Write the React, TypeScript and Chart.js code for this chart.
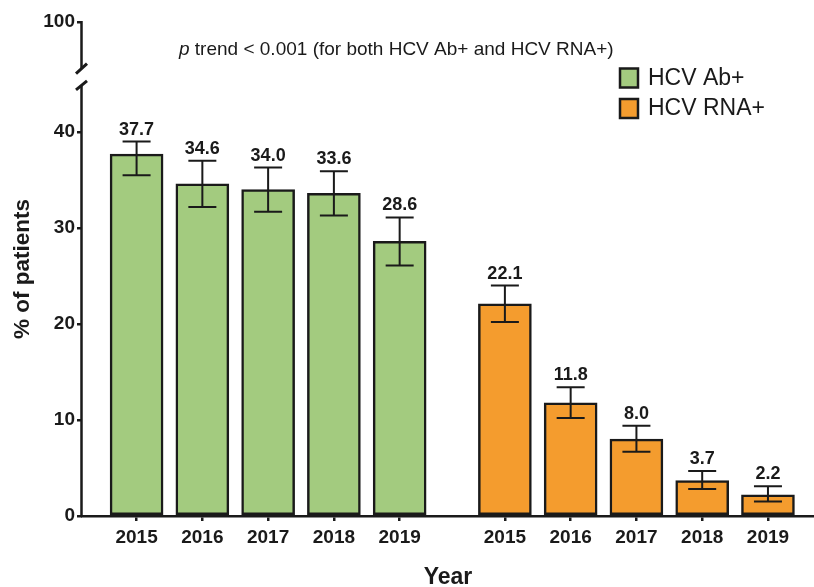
import React, { useEffect, useRef } from 'react';
import { Chart, registerables } from 'chart.js';

Chart.register(...registerables);

// ---- data ----
const years = ['2015', '2016', '2017', '2018', '2019'];
const abPositions = [0, 1, 2, 3, 4];
const rnaPositions = [5.6, 6.6, 7.6, 8.6, 9.6];

const abValues = [37.7, 34.6, 34.0, 33.6, 28.6];
const abLow = [35.5, 32.2, 31.7, 31.3, 26.1];
const abHigh = [39.0, 37.0, 36.3, 35.9, 31.1];

const rnaValues = [22.1, 11.8, 8.0, 3.7, 2.2];
const rnaLow = [20.2, 10.2, 6.7, 2.8, 1.5];
const rnaHigh = [24.0, 13.4, 9.4, 4.7, 3.1];

const yTicks = [0, 10, 20, 30, 40];
const yTopTickLabel = '100';
const seriesLabels = ['HCV Ab+', 'HCV RNA+'];
const annotationItalic = 'p';
const annotationRest = ' trend < 0.001 (for both HCV Ab+ and HCV RNA+)';

// ---- styling ----
const FONT = '"Liberation Sans", Arial, Helvetica, sans-serif';
const INK = '#1a1a1a';
const GREEN = '#A3CB7F';
const ORANGE = '#F49C2E';
const Y_TOP = 51.46; // scale value at the "100" tick position (broken axis)
const BREAK_LOW = 44.8;
const BREAK_HIGH = 46.6;

const overlay = {
  id: 'overlay',
  afterDatasetsDraw(chart: any) {
    const ctx = chart.ctx;
    const xs = chart.scales.x;
    const ys = chart.scales.y;
    const drawSeries = (pos: number[], vals: number[], lo: number[], hi: number[]) => {
      for (let i = 0; i < pos.length; i++) {
        const px = xs.getPixelForValue(pos[i]);
        const pl = ys.getPixelForValue(lo[i]);
        const ph = ys.getPixelForValue(hi[i]);
        ctx.save();
        ctx.strokeStyle = INK;
        ctx.lineWidth = 2;
        ctx.beginPath();
        ctx.moveTo(px, pl);
        ctx.lineTo(px, ph);
        ctx.moveTo(px - 14, pl);
        ctx.lineTo(px + 14, pl);
        ctx.moveTo(px - 14, ph);
        ctx.lineTo(px + 14, ph);
        ctx.stroke();
        ctx.fillStyle = INK;
        ctx.font = `bold 18px ${FONT}`;
        ctx.textAlign = 'center';
        ctx.textBaseline = 'alphabetic';
        ctx.fillText(vals[i].toFixed(1), px, ph - 7);
        ctx.restore();
      }
    };
    drawSeries(abPositions, abValues, abLow, abHigh);
    drawSeries(rnaPositions, rnaValues, rnaLow, rnaHigh);
  },
  afterDraw(chart: any) {
    const ctx = chart.ctx;
    const ys = chart.scales.y;
    const ax = chart.chartArea.left - 0.5;
    const yTop = ys.getPixelForValue(Y_TOP);
    const yB0 = ys.getPixelForValue(0);
    const yBl = ys.getPixelForValue(BREAK_LOW);
    const yBh = ys.getPixelForValue(BREAK_HIGH);
    ctx.save();
    ctx.strokeStyle = INK;
    ctx.lineWidth = 2.5;
    ctx.beginPath();
    ctx.moveTo(ax, yTop - 1);
    ctx.lineTo(ax, yBh);
    ctx.moveTo(ax, yBl);
    ctx.lineTo(ax, yB0 + 1);
    ctx.stroke();
    ctx.lineWidth = 3;
    ctx.beginPath();
    ctx.moveTo(ax - 5.5, yBh + 5);
    ctx.lineTo(ax + 5.5, yBh - 5);
    ctx.moveTo(ax - 5.5, yBl + 4);
    ctx.lineTo(ax + 5.5, yBl - 5);
    ctx.stroke();

    // annotation
    ctx.fillStyle = INK;
    ctx.textAlign = 'left';
    ctx.textBaseline = 'alphabetic';
    ctx.font = `italic 19px ${FONT}`;
    ctx.fillText(annotationItalic, 179, 55);
    const w = ctx.measureText(annotationItalic).width;
    ctx.font = `19px ${FONT}`;
    ctx.fillText(annotationRest, 179 + w, 55);

    // legend
    const colors = [GREEN, ORANGE];
    const rows = [77.5, 108];
    ctx.font = `23px ${FONT}`;
    ctx.textBaseline = 'middle';
    for (let i = 0; i < seriesLabels.length; i++) {
      const cy = rows[i];
      ctx.fillStyle = colors[i];
      ctx.fillRect(620, cy - 9, 18, 19);
      ctx.strokeStyle = INK;
      ctx.lineWidth = 2.5;
      ctx.strokeRect(620, cy - 9, 18, 19);
      ctx.fillStyle = INK;
      ctx.fillText(seriesLabels[i], 648, cy + 1);
    }
    ctx.restore();
  },
};

export default function App() {
  const ref = useRef<HTMLCanvasElement | null>(null);
  useEffect(() => {
    if (!ref.current) return;
    Chart.defaults.font.family = FONT;
    Chart.defaults.color = INK;
    const allPositions = [...abPositions, ...rnaPositions];
    const chart = new Chart(ref.current, {
      type: 'bar',
      data: {
        datasets: [
          {
            label: seriesLabels[0],
            data: abPositions.map((x, i) => ({ x, y: abValues[i] })),
            backgroundColor: GREEN,
            borderColor: INK,
            borderWidth: 2.5,
            borderSkipped: false,
            barThickness: 53,
            grouped: false,
          } as any,
          {
            label: seriesLabels[1],
            data: rnaPositions.map((x, i) => ({ x, y: rnaValues[i] })),
            backgroundColor: ORANGE,
            borderColor: INK,
            borderWidth: 2.5,
            borderSkipped: false,
            barThickness: 53,
            grouped: false,
          } as any,
        ],
      },
      options: {
        animation: false,
        responsive: false,
        layout: { padding: { top: 22, left: 0, right: 0, bottom: 0 } },
        plugins: { legend: { display: false }, tooltip: { enabled: false } },
        scales: {
          x: {
            type: 'linear',
            min: -0.83,
            max: 10.3,
            offset: false,
            afterBuildTicks: (s: any) => {
              s.ticks = allPositions.map((v) => ({ value: v }));
            },
            afterFit: (s: any) => {
              s.height = 71;
            },
            ticks: {
              autoSkip: false,
              maxRotation: 0,
              padding: 5,
              color: INK,
              font: { size: 19, weight: 'bold' },
              callback: (_v: any, i: number) => years[i % years.length],
            },
            grid: {
              offset: false,
              drawOnChartArea: false,
              drawTicks: true,
              tickLength: 5,
              lineWidth: 2.5,
              color: INK,
            },
            border: { display: true, color: INK, width: 2.5 },
            title: {
              display: true,
              text: 'Year',
              color: INK,
              font: { size: 23, weight: 'bold', lineHeight: 1 },
              padding: { top: 0, bottom: -2 },
            },
          },
          y: {
            type: 'linear',
            min: 0,
            max: Y_TOP,
            afterBuildTicks: (s: any) => {
              s.ticks = [...yTicks, Y_TOP].map((v) => ({ value: v }));
            },
            afterFit: (s: any) => {
              s.width = 82;
            },
            ticks: {
              autoSkip: false,
              padding: 2,
              color: INK,
              font: { size: 19, weight: 'bold' },
              callback: (_v: any, i: number) =>
                i < yTicks.length ? String(yTicks[i]) : yTopTickLabel,
            },
            grid: {
              offset: false,
              drawOnChartArea: false,
              drawTicks: true,
              tickLength: 5,
              lineWidth: 2.5,
              color: INK,
            },
            border: { display: false },
            title: {
              display: true,
              text: '% of patients',
              color: INK,
              font: { size: 22.5, weight: 'bold' },
              padding: { top: 9, bottom: 0 },
            },
          },
        },
      },
      plugins: [overlay],
    } as any);
    return () => chart.destroy();
  }, []);
  return (
    <div style={{ position: 'fixed', left: 0, top: 0, width: 814, height: 587 }}>
      <canvas ref={ref} width={814} height={587} style={{ display: 'block' }} />
    </div>
  );
}
